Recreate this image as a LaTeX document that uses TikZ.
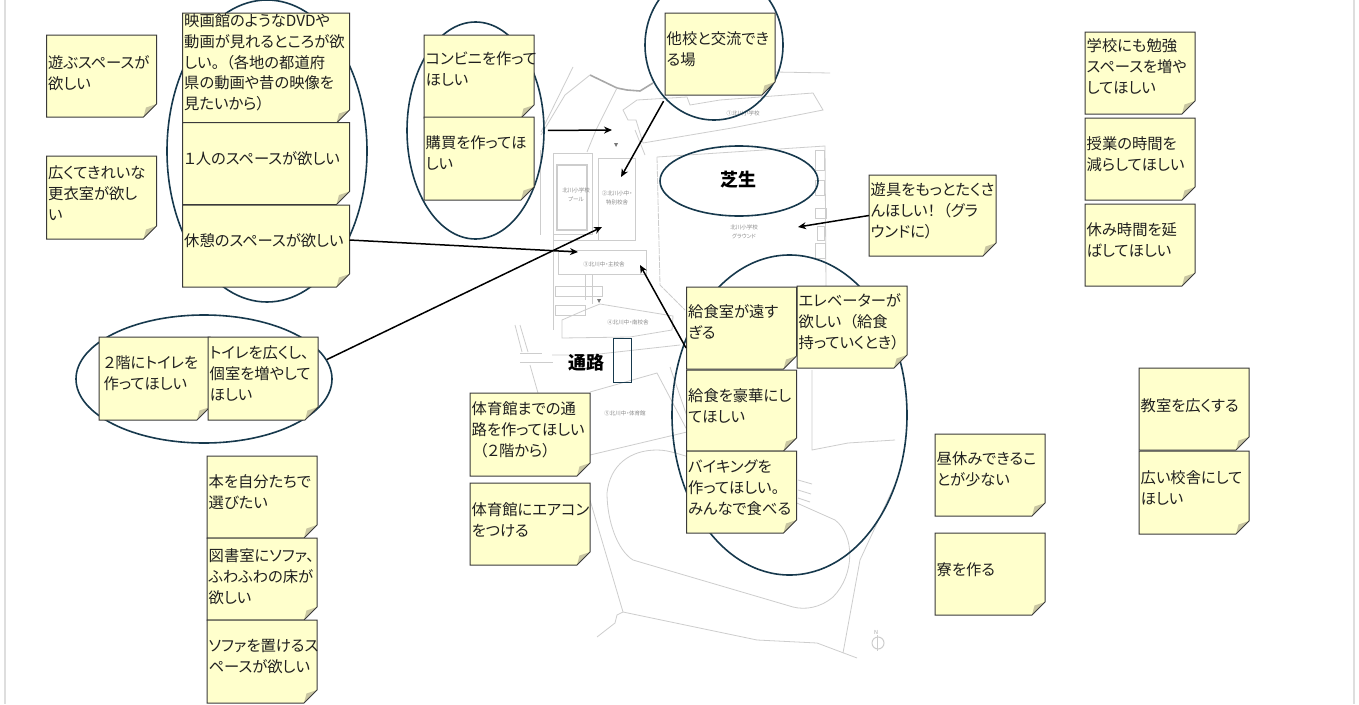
\documentclass[tikz,border=0pt]{standalone}
\usepackage{fontspec}
\usetikzlibrary{shapes.geometric,arrows.meta}
\newfontfamily\jp[RawFeature=+palt]{Noto Sans CJK JP}
\definecolor{notefill}{HTML}{FFFFCC}
\definecolor{noteline}{HTML}{3A3A3A}
\definecolor{foldfill}{HTML}{C9C6A2}
\definecolor{ringcol}{HTML}{17394D}
\definecolor{mapline}{HTML}{CDCDCD}
\definecolor{mapdark}{HTML}{A8A8A8}
\definecolor{maptext}{HTML}{8A8A8A}
\definecolor{framecol}{HTML}{DEDEDE}
\tikzset{
  ring/.style={shape=ellipse,draw=ringcol,line width=1.6pt,inner sep=0pt,fill=none},
  notebox/.style={anchor=north west,inner sep=0pt,outer sep=0pt},
  notetext/.style={anchor=north west,inner sep=0pt,align=left,text=black!88,font=\jp\fontsize{15.3}{20.8}\selectfont},
  mapstroke/.style={draw=mapline,line width=0.8pt},
  maplabel/.style={text=maptext,inner sep=0pt,align=center,font=\jp\fontsize{5.5}{9.5}\selectfont},
  boldlabel/.style={inner sep=0pt,text=black,font=\jp\bfseries\fontsize{18}{20}\selectfont},
  pointer/.style={draw=black,line width=1.5pt,-{Stealth[length=8pt,width=7pt]}}
}
% name, x, y, w, h, y of first text line, text
\newcommand{\sticky}[7]{%
  \fill[notefill] (#2,#3) -- ({#2+#4},#3) -- ({#2+#4},{#3+#5-13}) -- ({#2+#4-13},{#3+#5}) -- (#2,{#3+#5}) -- cycle;
  \fill[foldfill] ({#2+#4},{#3+#5-13}) -- ({#2+#4-13},{#3+#5}) -- ({#2+#4-10.5},{#3+#5-9.5}) -- cycle;
  \draw[noteline,line width=1pt,line join=miter] (#2,#3) -- ({#2+#4},#3) -- ({#2+#4},{#3+#5-13}) -- ({#2+#4-13},{#3+#5}) -- (#2,{#3+#5}) -- cycle;
  \node[notebox,minimum width=#4pt,minimum height=#5pt] (#1) at (#2,#3) {};
  \node[notetext] (#1-t) at ({#2+1.5},{#6-8.7}) {\rule{0pt}{15pt}#7};
}
\begin{document}
\begin{tikzpicture}[x=1pt,y=-1pt]
\useasboundingbox (0,0) rectangle (1359,704);
\fill[white] (0,0) rectangle (1359,704);
\draw[framecol,line width=2pt] (5,0) -- (5,704);
\draw[framecol,line width=2pt] (1354,0) -- (1354,704);

% ---- site plan ----
\draw[mapdark,line width=1.6pt] (590,75) -- (617,88) -- (627,90) -- (640,91) -- (653,83);
\draw[mapstroke] (775,72) -- (830,73);
\draw[mapstroke] (590,75) -- (565,95) -- (541,135);
\draw[mapstroke] (573,67) -- (541,132);
\draw[mapstroke] (617,88) -- (596,130) -- (587,152);
\draw[mapstroke] (540,150) -- (540,235);
\draw[mapstroke] (623,110) -- (637,100) -- (687,97) -- (690,105) -- (720,100) -- (813,93) -- (823,110) -- (732,128) -- (643,143) -- (636,120) -- (628,120) -- cycle;
\draw[mapstroke] (635,130) -- (645,155);
\draw[mapstroke] (657,157) -- (825,146) -- (826,288);
\draw[mapstroke,dash pattern=on 6pt off 1pt] (657,157) -- (660,285) -- (685,310);
\draw[mapstroke] (815,150) rectangle (824,170);
\draw[mapstroke] (815,180) rectangle (824,195);
\draw[mapstroke] (815,208) rectangle (826,218);
\draw[mapstroke] (817,226) rectangle (824,240);
\draw[mapstroke] (815,243) rectangle (825,258);
\draw[mapstroke] (553,153) rectangle (592,234);
\draw[mapstroke,line width=1.1pt] (557,165) rectangle (587,230);
\draw[mapstroke] (598,158) rectangle (635,240);
\draw[mapstroke] (553,234) -- (553,330);
\draw[mapstroke] (553,240) -- (598,240);
\draw[mapstroke] (558,250) rectangle (646,274);
\draw[mapstroke] (585,274) -- (585,300);
\draw[mapstroke] (592,274) -- (592,304);
\draw[mapstroke] (555,286) rectangle (602,296);
\draw[mapstroke] (555,305) rectangle (585,315);
\draw[mapstroke] (562,320) -- (562,338) -- (630,337) -- (672,330) -- (673,316) -- (600,304) -- (585,310) -- cycle;
\draw[mapstroke] (515,325) -- (522,352);
\draw[mapstroke] (520,325) -- (528,352);
\draw[mapstroke] (520,353) -- (542,353);
\draw[mapstroke] (520,362) -- (553,362);
\draw[mapstroke] (530,365) -- (560,470);
\draw[mapstroke] (552,355) -- (590,355) -- (680,345);
\draw[mapstroke] (590,392) -- (657,373) -- (687,430);
\draw[mapstroke] (670,367) -- (690,425);
\draw[mapstroke] (590,455) -- (687,432);
\draw[mapstroke] (607,493) .. controls (610,465) and (630,450) .. (657,450) .. controls (670,450) and (680,455) .. (700,460) -- (835,520) .. controls (855,535) and (855,575) .. (833,597) .. controls (820,608) and (805,610) .. (793,607) -- (633,560) .. controls (617,550) and (607,520) .. (607,493);
\draw[mapstroke] (590,500) -- (623,612) -- (757,640) -- (817,643) -- (857,658);
\draw[mapstroke] (623,612) -- (617,615) -- (615,623) -- (597,637);
\draw[mapstroke] (895,440) -- (848,443) -- (812,450) -- (812,370);
\draw[mapstroke] (897,480) -- (860,560) -- (843,653);
\draw[mapstroke] (798,480) -- (812,484);
\draw[mapstroke] (798,490) -- (811,494);
\draw[mapstroke] (798,498) -- (810,502);
\fill[mapdark!70!black] (614,143) -- (618,143) -- (616,147) -- cycle;
\fill[mapdark!70!black] (597,299) -- (601,299) -- (599,303) -- cycle;
\draw[mapline,line width=1pt] (878,643) circle (6);
\draw[mapline,line width=1pt] (877,635) -- (877,651);
\node[maplabel,text=mapdark] (compass) at (876,632) {N};
\node[maplabel] (lab1) at (743,113) {①北川小学校};
\node[maplabel] (lab2) at (617,198) {②北川小中・\\特別校舎};
\node[maplabel] (lab3) at (576,195) {北川小学校\\プール};
\node[maplabel] (lab4) at (744,232) {北川小学校\\グラウンド};
\node[maplabel] (lab5) at (604,264) {③北川中・主校舎};
\node[maplabel] (lab6) at (628,322) {④北川中・南校舎};
\node[maplabel] (lab7) at (625,413) {⑤北川中・体育館};

% ---- rings ----
\node[ring,minimum width=200pt,minimum height=302pt] (ringA) at (267,151) {};
\node[ring,minimum width=137pt,minimum height=217pt] (ringB) at (475.5,130.5) {};
\node[ring,minimum width=138pt,minimum height=150pt] (ringC) at (714,45) {};
\node[ring,minimum width=158pt,minimum height=70pt] (ringD) at (739,181) {};
\node[ring,minimum width=235pt,minimum height=320pt] (ringE) at (789.5,415) {};
\node[ring,minimum width=256pt,minimum height=128pt] (ringF) at (204,379) {};
\node[boldlabel] (shiba) at (738,180) {芝生};
\node[boldlabel] (tsuro) at (586,363) {通路};
\node[draw=ringcol,line width=1pt,anchor=north west,inner sep=0pt,minimum width=18pt,minimum height=44pt] (pass) at (613,338) {};

% ---- notes ----
\sticky{n01}{46.5}{35}{110}{82}{62}{遊ぶスペースが\\欲しい}
\sticky{n02}{46.5}{156}{110}{83}{172}{広くてきれいな\\更衣室が欲し\\い}
\sticky{n03}{182.5}{13}{167}{110}{20}{映画館のようなDVDや\\動画が見れるところが欲\\しい。\hspace{7pt}（各地の都道府\\県の動画や昔の映像を\\見たいから）}
\sticky{n04}{182.5}{122.5}{167}{82}{158}{１人のスペースが欲しい}
\sticky{n05}{182.5}{205}{167}{82}{240}{休憩のスペースが欲しい}
\sticky{n06}{424}{35}{110}{83}{58}{コンビニを作って\\ほしい}
\sticky{n07}{424}{117}{110}{83}{142}{購買を作ってほ\\しい}
\sticky{n08}{665}{13}{110}{82}{38}{他校と交流でき\\る場}
\sticky{n09}{869}{175}{127}{81}{189}{遊具をもっとたくさ\\んほしい！\hspace{8pt}（グラ\\ウンドに）}
\sticky{n10}{797}{286}{110}{82}{300}{エレベーターが\\欲しい\hspace{8pt}（給食\\持っていくとき）}
\sticky{n11}{686.5}{287}{110}{82}{311}{給食室が遠す\\ぎる}
\sticky{n12}{686.5}{370}{110}{81}{395}{給食を豪華にし\\てほしい}
\sticky{n13}{686.5}{451}{110}{82}{466}{バイキングを\\作ってほしい。\\みんなで食べる}
\sticky{n14}{99}{337}{111}{83}{362}{\hspace{3pt}２階にトイレを\\\hspace{3pt}作ってほしい}
\sticky{n15}{208}{337}{110}{83}{352}{トイレを広くし、\\個室を増やして\\ほしい}
\sticky{n16}{207}{456}{110}{82}{481}{本を自分たちで\\選びたい}
\sticky{n17}{207}{538}{110}{82}{555}{図書室にソファ、\\ふわふわの床が\\欲しい}
\sticky{n18}{207}{620}{110}{83}{645}{ソファを置けるス\\ペースが欲しい}
\sticky{n19}{470}{393}{120}{83}{408}{体育館までの通\\路を作ってほしい\\\hspace{8pt}（２階から）}
\sticky{n20}{470}{483}{120}{82}{509}{体育館にエアコン\\をつける}
\sticky{n21}{935}{434}{110}{82}{458}{昼休みできるこ\\とが少ない}
\sticky{n22}{935}{533}{110}{82}{569}{寮を作る}
\sticky{n23}{1139}{368}{110}{82}{405}{教室を広くする}
\sticky{n24}{1139}{451}{110}{83}{477}{広い校舎にして\\ほしい}
\sticky{n25}{1085}{32}{110}{82}{45}{学校にも勉強\\スペースを増や\\してほしい}
\sticky{n26}{1085}{118}{110}{82}{143}{授業の時間を\\減らしてほしい}
\sticky{n27}{1085}{204}{110}{82}{229}{休み時間を延\\ばしてほしい}

% ---- arrows ----
\coordinate (toA) at (612,130);
\coordinate (toB) at (621,177);
\coordinate (toC) at (578,252);
\coordinate (toD) at (602,227);
\coordinate (toE) at (640,265);
\coordinate (toF) at (798,227);
\draw[pointer,shorten <=3pt] (ringB.east) -- (toA);
\draw[pointer,shorten <=7pt] ([xshift=2pt]n08.south west) -- (toB);
\draw[pointer] ([yshift=6pt]n05.east) -- (toC);
\draw[pointer] (ringF.9) -- (toD);
\draw[pointer,shorten <=-5pt] (ringE.146) -- (toE);
\draw[pointer] (n09.west) -- (toF);
\end{tikzpicture}
\end{document}
